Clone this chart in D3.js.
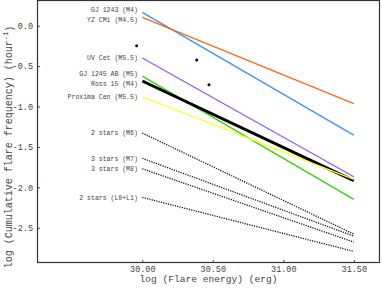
<!DOCTYPE html>
<html>
<head>
<meta charset="utf-8">
<script src="https://cdn.jsdelivr.net/npm/d3@7"></script>
<style>
  body { margin: 0; background: #fff; }
  svg { display: block; font-family: "Liberation Mono", "DejaVu Sans Mono", monospace; }
</style>
</head>
<body>
<svg></svg>
<script>
let width = 382;
let height = 290;
let margin = { top: 1, right: 2, bottom: 27, left: 37 };

// fitted relations, log N = a + b * log E, drawn from 30.0 to 31.5
let starNames = ["GJ 1243 (M4)", "YZ CMi (M4.5)", "UV Cet (M5.5)", "GJ 1245 AB (M5)",
  "Ross 15 (M4)", "Proxima Cen (M5.5)"];
let starStart = [0.166, 0.104, -0.40, -0.623, -0.684, -0.879];
let starEnd = [-1.353, -0.965, -1.869, -2.149, -1.918, -1.90];
let starColors = ["#3a96f2", "#ff6618", "#9a58f6", "#33d40a", "#000000", "#ffff1a"];

let groupNames = ["2 stars (M6)", "3 stars (M7)", "3 stars (M8)", "2 stars (L0+L1)"];
let groupStart = [-1.328, -1.641, -1.770, -2.124];
let groupEnd = [-2.578, -2.603, -2.677, -2.792];

let pointX = [29.96, 30.386, 30.473];
let pointY = [-0.248, -0.425, -0.73];

let xTicks = [30.0, 30.5, 31.0, 31.5];
let yTicks = [0.0, -0.5, -1.0, -1.5, -2.0, -2.5];
let eStart = 30.0;
let eEnd = 31.5;

let svg = d3.select("svg").attr("width", width).attr("height", height);

let xScale = d3.scaleLinear()
  .domain([29.253, 31.686])
  .range([margin.left, width - margin.right]);
let yScale = d3.scaleLinear()
  .domain([0.306, -2.936])
  .range([margin.top, height - margin.bottom]);

// frame
svg.append("rect")
  .attr("x", margin.left + 0.5)
  .attr("y", margin.top - 0.5)
  .attr("width", width - margin.left - margin.right - 1)
  .attr("height", height - margin.top - margin.bottom)
  .attr("fill", "none")
  .attr("stroke", "#333")
  .attr("stroke-width", 1.2);

let yFmt = (d) => (d < 0 ? "-" : "") + d3.format(".1f")(Math.abs(d));

let xAxis = d3.axisBottom(xScale).tickValues(xTicks).tickFormat(d3.format(".2f"))
  .tickSizeInner(-3).tickSizeOuter(0).tickPadding(5);
let yAxis = d3.axisLeft(yScale).tickValues(yTicks).tickFormat(yFmt)
  .tickSizeInner(-3).tickSizeOuter(0).tickPadding(4);

let gx = svg.append("g")
  .attr("transform", "translate(0," + (height - margin.bottom) + ")")
  .call(xAxis);
let gy = svg.append("g")
  .attr("transform", "translate(" + margin.left + ",0)")
  .call(yAxis);
[gx, gy].forEach((g) => {
  g.select(".domain").remove();
  g.selectAll("line").attr("stroke", "#444");
  g.selectAll("text")
    .attr("font-size", 8.5)
    .attr("font-family", "Liberation Mono")
    .attr("fill", "#444");
});
gx.selectAll("text").attr("dy", "0.5em");

// dotted group lines
let groups = groupNames.map((n, i) => ({ name: n, a: groupStart[i], b: groupEnd[i] }));
svg.append("g").selectAll("line")
  .data(groups)
  .enter()
  .append("line")
  .attr("x1", xScale(eStart))
  .attr("x2", xScale(eEnd))
  .attr("y1", (d) => yScale(d.a))
  .attr("y2", (d) => yScale(d.b))
  .attr("stroke", "#111")
  .attr("stroke-width", 1.3)
  .attr("stroke-dasharray", "1.2,1.2");

let stars = starNames.map((n, i) => ({ name: n, a: starStart[i], b: starEnd[i], color: starColors[i] }));
svg.append("g").selectAll("line")
  .data(stars)
  .enter()
  .append("line")
  .attr("x1", xScale(eStart))
  .attr("x2", xScale(eEnd))
  .attr("y1", (d) => yScale(d.a))
  .attr("y2", (d) => yScale(d.b))
  .attr("stroke", (d) => d.color)
  .attr("stroke-width", (d) => (d.color == "#000000" ? 3 : 1.3));

// labels left of each line start, pushed apart where they would collide
let labels = stars.concat(groups).map((d) => ({ name: d.name, y: yScale(d.a) }));
labels.sort((p, q) => p.y - q.y);
let gap = 9.5;
for (let k = 0; k < 20; k++) {
  for (let i = 1; i < labels.length; i++) {
    let dy = labels[i].y - labels[i - 1].y;
    if (dy < gap) {
      let push = (gap - dy) / 2;
      labels[i - 1].y -= push;
      labels[i].y += push;
    }
  }
}

svg.append("g").selectAll("text")
  .data(labels)
  .enter()
  .append("text")
  .attr("x", xScale(eStart) - 4.5)
  .attr("y", (d) => d.y)
  .attr("dy", "0.35em")
  .attr("text-anchor", "end")
  .attr("font-size", 6.5)
  .attr("fill", "#444")
  .text((d) => d.name);

svg.append("g").selectAll("circle")
  .data(pointX)
  .enter()
  .append("circle")
  .attr("cx", (d) => xScale(d))
  .attr("cy", (d, i) => yScale(pointY[i]))
  .attr("r", 1.5)
  .attr("fill", "#000");

// axis titles
svg.append("text")
  .attr("x", (margin.left + width - margin.right) / 2)
  .attr("y", 282)
  .attr("text-anchor", "middle")
  .attr("font-size", 9.6)
  .attr("fill", "#444")
  .text("log (Flare energy) (erg)");

let yt = svg.append("text")
  .attr("transform", "translate(11.5," + 147 + ") rotate(-90)")
  .attr("text-anchor", "middle")
  .attr("font-size", 10)
  .attr("fill", "#444");
yt.append("tspan").text("log (Cumulative flare frequency) (hour");
yt.append("tspan").attr("dy", "-0.45em").attr("font-size", 7).text("-1");
yt.append("tspan").attr("dy", "0.45em").text(")");
</script>
</body>
</html>
